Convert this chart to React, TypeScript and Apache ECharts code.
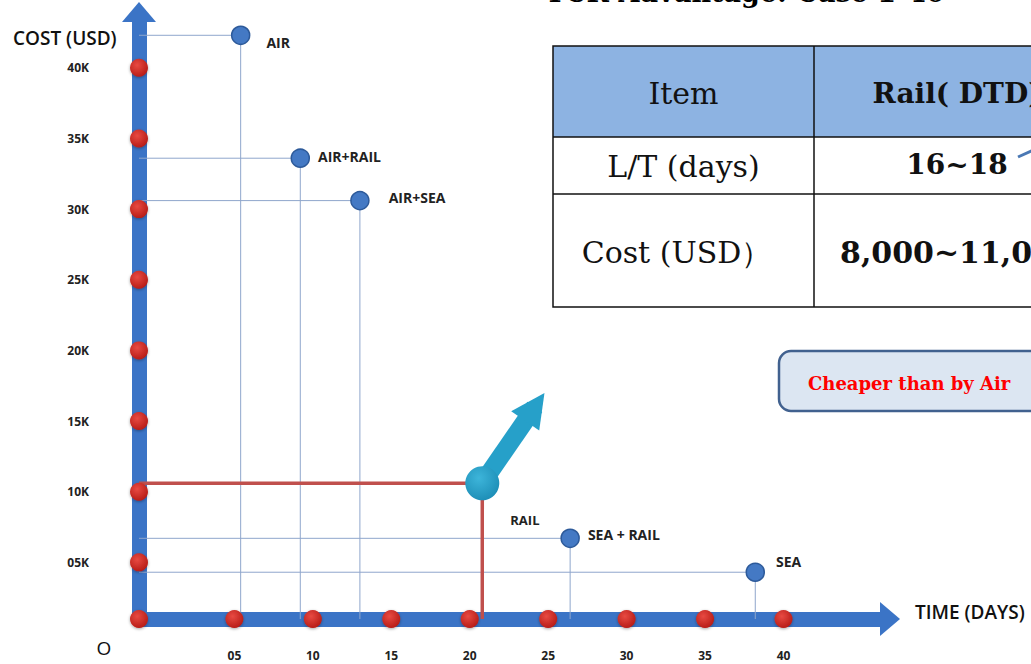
import React, { useEffect, useRef } from "react";
import * as echarts from "echarts";

// ---- axis ticks ----
const X_TICKS = [5, 10, 15, 20, 25, 30, 35, 40];
const Y_TICKS = [5, 10, 15, 20, 25, 30, 35, 40];
const X_MIN = -1.08;
const X_MAX = 46.15;
const Y_MIN = 0.99;
const Y_MAX = 43.24;

// ---- transport modes (days, cost in K USD) ----
const MODES = ["AIR", "AIR+RAIL", "AIR+SEA", "SEA + RAIL", "SEA"];
const MODE_DAYS = [5.4, 9.2, 13.0, 26.4, 38.2];
const MODE_COST = [42.3, 33.6, 30.6, 6.7, 4.3];

// ---- rail highlight ----
const RAIL_NAME = "RAIL";
const RAIL_DAYS = 20.8;
const RAIL_COST = 10.6;
const ARROW_END_DAYS = 24.15;
const ARROW_END_COST = 16.0;

// ---- table ----
const TABLE_HEAD = ["Item", "Rail( DTD)"];
const TABLE_ROWS = [
  ["L/T (days)", "16~18"],
  ["Cost (USD）", "8,000~11,000"],
];

// label offsets (style only)
const LABEL_OFFSETS = [
  [16, 7],
  [8, -2],
  [19, -3],
  [8, -4],
  [11, -11],
];

const pad = (v: number) => (v < 10 ? "0" + v : String(v));

export default function App() {
  const ref = useRef<HTMLDivElement>(null);
  useEffect(() => {
    if (!ref.current) return;
    const chart = echarts.init(ref.current, null, { renderer: "svg" });
    const axisBlue = "#3b74c6";
    const sans = '"Open Sans", sans-serif';
    const serif = '"DejaVu Serif", serif';

    const redDotColor = new echarts.graphic.RadialGradient(0.4, 0.35, 0.7, [
      { offset: 0, color: "#e84a42" },
      { offset: 1, color: "#b51a15" },
    ]);
    const cyanColor = new echarts.graphic.RadialGradient(0.4, 0.35, 0.75, [
      { offset: 0, color: "#3db5da" },
      { offset: 1, color: "#1a8ab3" },
    ]);

    const dropLines = MODES.map((_, i) => ({
      coords: [
        [X_MIN, MODE_COST[i]],
        [MODE_DAYS[i], MODE_COST[i]],
        [MODE_DAYS[i], Y_MIN],
      ],
    }));

    const axisDots = [
      ...X_TICKS.map((v) => [v, Y_MIN]),
      ...Y_TICKS.map((v) => [X_MIN, v]),
      [X_MIN, Y_MIN],
    ];

    const tableLeft = 553;
    const tableTop = 46;
    const colSplit = 814;
    const tableRight = 1100;
    const rowY = [46, 137, 194, 307];
    const col1C = (tableLeft + colSplit) / 2;
    const col2C = (colSplit + tableRight) / 2;

    const graphic: any[] = [
      {
        type: "text",
        style: {
          text: "TCR Advantage: Case 1-40",
          x: 545,
          y: 6,
          align: "left",
          verticalAlign: "bottom",
          font: `bold 27px ${serif}`,
          fill: "#000",
        },
        z: 100,
      },
      {
        type: "rect",
        shape: { x: tableLeft, y: rowY[0], width: tableRight - tableLeft, height: rowY[1] - rowY[0] },
        style: { fill: "#8db3e2" },
        z: 100,
      },
      {
        type: "rect",
        shape: { x: tableLeft, y: tableTop, width: tableRight - tableLeft, height: rowY[3] - rowY[0] },
        style: { fill: "none", stroke: "#111", lineWidth: 1.5 },
        z: 101,
      },
      {
        type: "line",
        shape: { x1: tableLeft, y1: rowY[1], x2: tableRight, y2: rowY[1] },
        style: { stroke: "#111", lineWidth: 1.5 },
        z: 101,
      },
      {
        type: "line",
        shape: { x1: tableLeft, y1: rowY[2], x2: tableRight, y2: rowY[2] },
        style: { stroke: "#111", lineWidth: 1.5 },
        z: 101,
      },
      {
        type: "line",
        shape: { x1: colSplit, y1: rowY[0], x2: colSplit, y2: rowY[3] },
        style: { stroke: "#111", lineWidth: 1.5 },
        z: 101,
      },
      {
        type: "text",
        style: { text: TABLE_HEAD[0], x: col1C, y: 93, align: "center", verticalAlign: "middle", font: `30px ${serif}`, fill: "#111" },
        z: 102,
      },
      {
        type: "text",
        style: { text: TABLE_HEAD[1], x: col2C, y: 93, align: "center", verticalAlign: "middle", font: `bold 28px ${serif}`, fill: "#111" },
        z: 102,
      },
      {
        type: "text",
        style: { text: TABLE_ROWS[0][0], x: col1C, y: 166, align: "center", verticalAlign: "middle", font: `30px ${serif}`, fill: "#111" },
        z: 102,
      },
      {
        type: "text",
        style: { text: TABLE_ROWS[0][1], x: col2C, y: 164, align: "center", verticalAlign: "middle", font: `bold 28px ${serif}`, fill: "#111" },
        z: 102,
      },
      {
        type: "text",
        style: { text: TABLE_ROWS[1][0], x: col1C - 7, y: 252, align: "center", verticalAlign: "middle", font: `30px ${serif}`, fill: "#111" },
        z: 102,
      },
      {
        type: "text",
        style: { text: TABLE_ROWS[1][1], x: col2C, y: 252, align: "center", verticalAlign: "middle", font: `bold 30px ${serif}`, fill: "#111" },
        z: 102,
      },
      {
        type: "line",
        shape: { x1: 1018, y1: 157, x2: 1040, y2: 147 },
        style: { stroke: "#4a78b4", lineWidth: 3 },
        z: 102,
      },
      {
        type: "rect",
        shape: { x: 779, y: 351, width: 400, height: 60, r: 12 },
        style: { fill: "#dce6f2", stroke: "#41618f", lineWidth: 2.5 },
        z: 100,
      },
      {
        type: "text",
        style: { text: "Cheaper than by Air", x: 808, y: 383, align: "left", verticalAlign: "middle", font: `bold 18px ${serif}`, fill: "#ff0000" },
        z: 102,
      },
      {
        type: "text",
        style: { text: "COST (USD)", x: 13, y: 38, align: "left", verticalAlign: "middle", font: `600 19px ${sans}`, fill: "#111" },
        z: 100,
      },
      {
        type: "text",
        style: { text: "TIME (DAYS)", x: 915, y: 612, align: "left", verticalAlign: "middle", font: `600 19px ${sans}`, fill: "#111" },
        z: 100,
      },
      {
        type: "text",
        style: { text: "O", x: 104, y: 648, align: "center", verticalAlign: "middle", font: `19px ${sans}`, fill: "#111" },
        z: 100,
      },
    ];

    const option: any = {
      animation: false,
      backgroundColor: "#ffffff",
      grid: { left: 139, top: 22, width: 741, height: 597, outerBoundsMode: "none", containLabel: false },
      xAxis: {
        type: "value",
        min: X_MIN,
        max: X_MAX,
        axisLine: {
          show: true,
          onZero: false,
          lineStyle: { color: axisBlue, width: 15 },
          symbol: ["none", "triangle"],
          symbolSize: [34, 20],
          symbolOffset: [0, 10],
        },
        axisTick: { show: false },
        splitLine: { show: false },
        axisLabel: {
          customValues: X_TICKS,
          formatter: (v: number) => pad(Math.round(v)),
          margin: 30,
          color: "#222",
          fontFamily: sans,
          fontWeight: "bold",
          fontSize: 12,
        },
      },
      yAxis: {
        type: "value",
        min: Y_MIN,
        max: Y_MAX,
        axisLine: {
          show: true,
          onZero: false,
          lineStyle: { color: axisBlue, width: 15 },
          symbol: ["none", "triangle"],
          symbolSize: [34, 20],
          symbolOffset: [0, 10],
        },
        axisTick: { show: false },
        splitLine: { show: false },
        axisLabel: {
          customValues: Y_TICKS,
          formatter: (v: number) => pad(Math.round(v)) + "K",
          margin: 50,
          color: "#222",
          fontFamily: sans,
          fontWeight: "bold",
          fontSize: 12,
        },
      },
      graphic,
      series: [
        {
          type: "lines",
          coordinateSystem: "cartesian2d",
          polyline: true,
          silent: true,
          z: 2,
          lineStyle: { color: "#8fa6cc", width: 1, opacity: 1 },
          data: dropLines,
        },
        {
          type: "lines",
          coordinateSystem: "cartesian2d",
          polyline: true,
          silent: true,
          z: 3,
          lineStyle: { color: "#c0504d", width: 3.5, opacity: 1 },
          data: [
            {
              coords: [
                [X_MIN, RAIL_COST],
                [RAIL_DAYS, RAIL_COST],
                [RAIL_DAYS, Y_MIN],
              ],
            },
          ],
        },
        {
          type: "lines",
          coordinateSystem: "cartesian2d",
          silent: true,
          z: 4,
          symbol: ["none", "triangle"],
          symbolSize: [42, 34],
          lineStyle: { color: "#26a0c9", width: 18, opacity: 1 },
          data: [
            {
              coords: [
                [RAIL_DAYS, RAIL_COST],
                [ARROW_END_DAYS, ARROW_END_COST],
              ],
            },
          ],
        },
        {
          type: "scatter",
          z: 5,
          clip: false,
          symbolSize: 34,
          itemStyle: { color: cyanColor, opacity: 1 },
          label: {
            show: true,
            position: "right",
            distance: 0,
            offset: [11, 37],
            formatter: RAIL_NAME,
            color: "#222",
            fontFamily: sans,
            fontWeight: "bold",
            fontSize: 13,
          },
          data: [[RAIL_DAYS, RAIL_COST]],
        },
        {
          type: "scatter",
          z: 6,
          clip: false,
          symbolSize: 18,
          itemStyle: { color: redDotColor, opacity: 1, shadowBlur: 3, shadowColor: "rgba(0,0,0,0.35)", shadowOffsetY: 1 },
          data: axisDots,
        },
        {
          type: "scatter",
          z: 6,
          clip: false,
          symbolSize: 18,
          itemStyle: { color: "#4479c4", opacity: 1, borderColor: "#2d5a9a", borderWidth: 1.5 },
          data: MODES.map((m, i) => ({
            name: m,
            value: [MODE_DAYS[i], MODE_COST[i]],
            label: {
              show: true,
              position: "right",
              distance: 0,
              offset: LABEL_OFFSETS[i],
              formatter: m,
              color: "#222",
              fontFamily: sans,
              fontWeight: "bold",
              fontSize: 14,
            },
          })),
        },
      ],
    };
    chart.setOption(option);
    return () => chart.dispose();
  }, []);

  return (
    <div
      ref={ref}
      style={{ position: "fixed", left: 0, top: 0, width: 1031, height: 664, background: "#fff" }}
    />
  );
}
